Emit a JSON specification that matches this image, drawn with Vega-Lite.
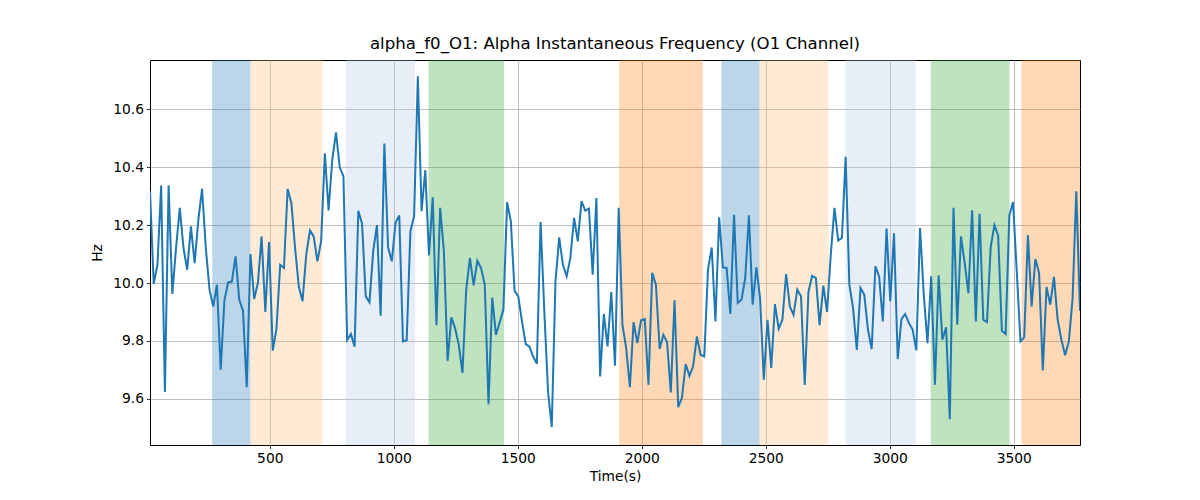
{
  "$schema": "https://vega.github.io/schema/vega-lite/v6.json",
  "width": 930,
  "height": 385,
  "autosize": {"type": "none"},
  "padding": {"left": 150, "top": 60, "right": 120, "bottom": 55},
  "background": "white",
  "title": {
    "text": "alpha_f0_O1: Alpha Instantaneous Frequency (O1 Channel)",
    "font": "DejaVu Sans",
    "fontSize": 16.6,
    "fontWeight": "normal",
    "color": "black",
    "anchor": "middle",
    "offset": 7
  },
  "config": {
    "view": {"stroke": "black", "strokeWidth": 1},
    "axis": {
      "labelFont": "DejaVu Sans",
      "titleFont": "DejaVu Sans",
      "labelFontSize": 13.8,
      "titleFontSize": 13.8,
      "titleFontWeight": "normal",
      "labelColor": "black",
      "titleColor": "black",
      "tickColor": "black",
      "tickSize": 3.5,
      "tickWidth": 0.8,
      "labelPadding": 3,
      "domain": false,
      "grid": true,
      "gridColor": "#b0b0b0",
      "gridWidth": 0.8
    }
  },
  "datasets": {
    "bands": [
      {"start": 268, "end": 422, "state": "s1"},
      {"start": 422, "end": 712, "state": "s2"},
      {"start": 806, "end": 1086, "state": "s3"},
      {"start": 1140, "end": 1445, "state": "s4"},
      {"start": 1909, "end": 2246, "state": "s5"},
      {"start": 2321, "end": 2475, "state": "s1"},
      {"start": 2475, "end": 2753, "state": "s2"},
      {"start": 2822, "end": 3104, "state": "s3"},
      {"start": 3165, "end": 3483, "state": "s4"},
      {"start": 3531, "end": 3767, "state": "s5"}
    ],
    "series": [
      {"t": 17, "hz": 10.317}, {"t": 32, "hz": 9.997}, {"t": 47, "hz": 10.063}, {"t": 62, "hz": 10.337},
      {"t": 77, "hz": 9.623}, {"t": 92, "hz": 10.338}, {"t": 107, "hz": 9.962}, {"t": 122, "hz": 10.121},
      {"t": 137, "hz": 10.26}, {"t": 152, "hz": 10.121}, {"t": 167, "hz": 10.046}, {"t": 182, "hz": 10.196},
      {"t": 197, "hz": 10.069}, {"t": 212, "hz": 10.219}, {"t": 227, "hz": 10.326}, {"t": 242, "hz": 10.121},
      {"t": 257, "hz": 9.977}, {"t": 272, "hz": 9.919}, {"t": 287, "hz": 9.994}, {"t": 302, "hz": 9.7},
      {"t": 317, "hz": 9.939}, {"t": 332, "hz": 10.002}, {"t": 347, "hz": 10.005}, {"t": 362, "hz": 10.092},
      {"t": 377, "hz": 9.942}, {"t": 392, "hz": 9.904}, {"t": 407, "hz": 9.64}, {"t": 422, "hz": 10.1},
      {"t": 437, "hz": 9.945}, {"t": 452, "hz": 10.0}, {"t": 467, "hz": 10.161}, {"t": 482, "hz": 9.9},
      {"t": 497, "hz": 10.142}, {"t": 512, "hz": 9.766}, {"t": 527, "hz": 9.842}, {"t": 542, "hz": 10.063},
      {"t": 557, "hz": 10.052}, {"t": 572, "hz": 10.325}, {"t": 587, "hz": 10.277}, {"t": 602, "hz": 10.121},
      {"t": 617, "hz": 9.988}, {"t": 632, "hz": 9.937}, {"t": 647, "hz": 10.098}, {"t": 662, "hz": 10.182},
      {"t": 677, "hz": 10.161}, {"t": 692, "hz": 10.075}, {"t": 707, "hz": 10.144}, {"t": 722, "hz": 10.448},
      {"t": 737, "hz": 10.251}, {"t": 752, "hz": 10.427}, {"t": 767, "hz": 10.521}, {"t": 782, "hz": 10.4},
      {"t": 797, "hz": 10.369}, {"t": 812, "hz": 9.803}, {"t": 827, "hz": 9.824}, {"t": 842, "hz": 9.78},
      {"t": 857, "hz": 10.25}, {"t": 872, "hz": 10.205}, {"t": 887, "hz": 9.954}, {"t": 902, "hz": 9.933},
      {"t": 917, "hz": 10.11}, {"t": 932, "hz": 10.2}, {"t": 947, "hz": 9.887}, {"t": 962, "hz": 10.482},
      {"t": 977, "hz": 10.123}, {"t": 992, "hz": 10.075}, {"t": 1007, "hz": 10.208}, {"t": 1022, "hz": 10.234},
      {"t": 1037, "hz": 9.798}, {"t": 1052, "hz": 9.802}, {"t": 1067, "hz": 10.179}, {"t": 1082, "hz": 10.231},
      {"t": 1097, "hz": 10.715}, {"t": 1112, "hz": 10.248}, {"t": 1127, "hz": 10.39}, {"t": 1142, "hz": 10.095},
      {"t": 1157, "hz": 10.296}, {"t": 1172, "hz": 9.854}, {"t": 1187, "hz": 10.26}, {"t": 1202, "hz": 10.11},
      {"t": 1217, "hz": 9.731}, {"t": 1232, "hz": 9.881}, {"t": 1247, "hz": 9.844}, {"t": 1262, "hz": 9.787},
      {"t": 1277, "hz": 9.689}, {"t": 1292, "hz": 9.977}, {"t": 1307, "hz": 10.087}, {"t": 1322, "hz": 9.992},
      {"t": 1337, "hz": 10.077}, {"t": 1352, "hz": 10.052}, {"t": 1367, "hz": 9.994}, {"t": 1382, "hz": 9.581},
      {"t": 1397, "hz": 9.95}, {"t": 1412, "hz": 9.821}, {"t": 1427, "hz": 9.864}, {"t": 1442, "hz": 9.908},
      {"t": 1457, "hz": 10.279}, {"t": 1472, "hz": 10.213}, {"t": 1487, "hz": 9.973}, {"t": 1502, "hz": 9.954},
      {"t": 1517, "hz": 9.867}, {"t": 1532, "hz": 9.789}, {"t": 1547, "hz": 9.78}, {"t": 1562, "hz": 9.746},
      {"t": 1577, "hz": 9.721}, {"t": 1592, "hz": 10.211}, {"t": 1607, "hz": 9.902}, {"t": 1622, "hz": 9.625},
      {"t": 1637, "hz": 9.502}, {"t": 1652, "hz": 10.006}, {"t": 1667, "hz": 10.158}, {"t": 1682, "hz": 10.063},
      {"t": 1697, "hz": 10.023}, {"t": 1712, "hz": 10.087}, {"t": 1727, "hz": 10.225}, {"t": 1742, "hz": 10.144},
      {"t": 1757, "hz": 10.283}, {"t": 1772, "hz": 10.25}, {"t": 1787, "hz": 10.257}, {"t": 1802, "hz": 10.029},
      {"t": 1817, "hz": 10.294}, {"t": 1832, "hz": 9.677}, {"t": 1847, "hz": 9.893}, {"t": 1862, "hz": 9.781},
      {"t": 1877, "hz": 9.969}, {"t": 1892, "hz": 9.714}, {"t": 1907, "hz": 10.26}, {"t": 1922, "hz": 9.856},
      {"t": 1937, "hz": 9.775}, {"t": 1952, "hz": 9.64}, {"t": 1967, "hz": 9.865}, {"t": 1982, "hz": 9.792},
      {"t": 1997, "hz": 9.871}, {"t": 2012, "hz": 9.875}, {"t": 2027, "hz": 9.648}, {"t": 2042, "hz": 10.035},
      {"t": 2057, "hz": 9.994}, {"t": 2072, "hz": 9.772}, {"t": 2087, "hz": 9.821}, {"t": 2102, "hz": 9.796},
      {"t": 2117, "hz": 9.622}, {"t": 2132, "hz": 9.94}, {"t": 2147, "hz": 9.571}, {"t": 2162, "hz": 9.604},
      {"t": 2177, "hz": 9.72}, {"t": 2192, "hz": 9.679}, {"t": 2207, "hz": 9.712}, {"t": 2222, "hz": 9.815},
      {"t": 2237, "hz": 9.752}, {"t": 2252, "hz": 9.746}, {"t": 2267, "hz": 10.046}, {"t": 2282, "hz": 10.123},
      {"t": 2297, "hz": 9.867}, {"t": 2312, "hz": 10.227}, {"t": 2327, "hz": 10.054}, {"t": 2342, "hz": 10.052},
      {"t": 2357, "hz": 9.893}, {"t": 2372, "hz": 10.236}, {"t": 2387, "hz": 9.931}, {"t": 2402, "hz": 9.942},
      {"t": 2417, "hz": 10.017}, {"t": 2432, "hz": 10.234}, {"t": 2447, "hz": 9.925}, {"t": 2462, "hz": 10.054},
      {"t": 2477, "hz": 9.948}, {"t": 2492, "hz": 9.666}, {"t": 2507, "hz": 9.873}, {"t": 2522, "hz": 9.706},
      {"t": 2537, "hz": 9.927}, {"t": 2552, "hz": 9.842}, {"t": 2567, "hz": 9.873}, {"t": 2582, "hz": 10.031},
      {"t": 2597, "hz": 9.919}, {"t": 2612, "hz": 9.89}, {"t": 2627, "hz": 9.977}, {"t": 2642, "hz": 9.954},
      {"t": 2657, "hz": 9.648}, {"t": 2672, "hz": 9.969}, {"t": 2687, "hz": 10.025}, {"t": 2702, "hz": 10.017},
      {"t": 2717, "hz": 9.854}, {"t": 2732, "hz": 9.991}, {"t": 2747, "hz": 9.9}, {"t": 2762, "hz": 10.098},
      {"t": 2777, "hz": 10.26}, {"t": 2792, "hz": 10.147}, {"t": 2807, "hz": 10.156}, {"t": 2822, "hz": 10.436},
      {"t": 2837, "hz": 9.994}, {"t": 2852, "hz": 9.913}, {"t": 2867, "hz": 9.769}, {"t": 2882, "hz": 9.983},
      {"t": 2897, "hz": 9.96}, {"t": 2912, "hz": 9.839}, {"t": 2927, "hz": 9.772}, {"t": 2942, "hz": 10.058},
      {"t": 2957, "hz": 10.023}, {"t": 2972, "hz": 9.867}, {"t": 2987, "hz": 10.188}, {"t": 3002, "hz": 9.937},
      {"t": 3017, "hz": 10.172}, {"t": 3032, "hz": 9.737}, {"t": 3047, "hz": 9.875}, {"t": 3062, "hz": 9.893},
      {"t": 3077, "hz": 9.862}, {"t": 3092, "hz": 9.839}, {"t": 3107, "hz": 9.767}, {"t": 3122, "hz": 10.19},
      {"t": 3137, "hz": 9.96}, {"t": 3152, "hz": 9.792}, {"t": 3167, "hz": 10.023}, {"t": 3182, "hz": 9.648},
      {"t": 3197, "hz": 10.027}, {"t": 3212, "hz": 9.804}, {"t": 3227, "hz": 9.847}, {"t": 3242, "hz": 9.529},
      {"t": 3257, "hz": 10.26}, {"t": 3272, "hz": 9.856}, {"t": 3287, "hz": 10.161}, {"t": 3302, "hz": 10.069},
      {"t": 3317, "hz": 9.965}, {"t": 3332, "hz": 10.251}, {"t": 3347, "hz": 9.867}, {"t": 3362, "hz": 10.239},
      {"t": 3377, "hz": 9.873}, {"t": 3392, "hz": 9.865}, {"t": 3407, "hz": 10.125}, {"t": 3422, "hz": 10.2},
      {"t": 3437, "hz": 10.164}, {"t": 3452, "hz": 9.835}, {"t": 3467, "hz": 9.824}, {"t": 3482, "hz": 10.234},
      {"t": 3497, "hz": 10.28}, {"t": 3512, "hz": 10.04}, {"t": 3527, "hz": 9.798}, {"t": 3542, "hz": 9.812},
      {"t": 3557, "hz": 10.165}, {"t": 3572, "hz": 9.919}, {"t": 3587, "hz": 10.083}, {"t": 3602, "hz": 10.035},
      {"t": 3617, "hz": 9.698}, {"t": 3632, "hz": 9.986}, {"t": 3647, "hz": 9.925}, {"t": 3662, "hz": 10.021},
      {"t": 3677, "hz": 9.873}, {"t": 3692, "hz": 9.804}, {"t": 3707, "hz": 9.75}, {"t": 3722, "hz": 9.798},
      {"t": 3737, "hz": 9.945}, {"t": 3752, "hz": 10.317}, {"t": 3767, "hz": 9.904}
    ]
  },
  "layer": [
    {
      "data": {"name": "bands"},
      "mark": {"type": "rect", "opacity": 0.3, "clip": true},
      "encoding": {
        "x": {
          "field": "start",
          "type": "quantitative",
          "scale": {"domain": [17, 3767], "nice": false, "zero": false},
          "axis": {"values": [500, 1000, 1500, 2000, 2500, 3000, 3500], "format": "d", "title": "Time(s)", "titlePadding": 4}
        },
        "x2": {"field": "end"},
        "color": {
          "field": "state",
          "type": "nominal",
          "legend": null,
          "scale": {
            "domain": ["s1", "s2", "s3", "s4", "s5"],
            "range": ["#1f77b4", "#ffbb78", "#aec7e8", "#2ca02c", "#ff7f0e"]
          }
        }
      }
    },
    {
      "data": {"name": "series"},
      "mark": {"type": "line", "color": "#1f77b4", "strokeWidth": 2, "clip": true},
      "encoding": {
        "x": {"field": "t", "type": "quantitative"},
        "y": {
          "field": "hz",
          "type": "quantitative",
          "scale": {"domain": [9.44, 10.771], "nice": false, "zero": false},
          "axis": {"values": [9.6, 9.8, 10.0, 10.2, 10.4, 10.6], "format": ".1f", "title": "Hz", "titlePadding": 8}
        }
      }
    }
  ]
}
